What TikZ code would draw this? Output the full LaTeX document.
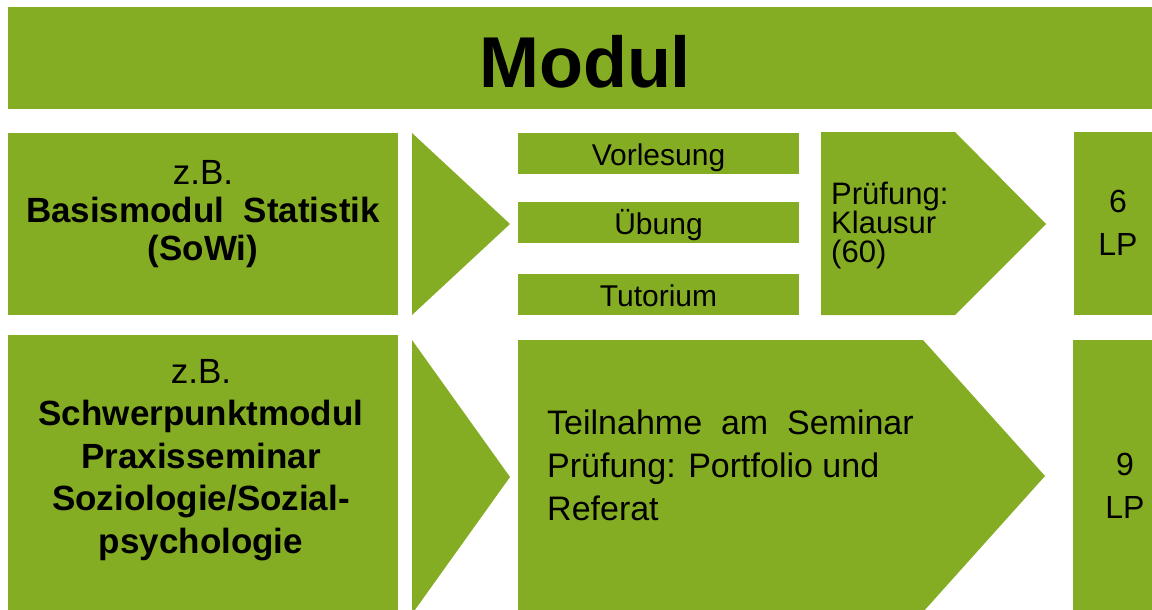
\documentclass[tikz,border=0pt]{standalone}
\usepackage{fontspec}
\setmainfont{Liberation Sans}
\usetikzlibrary{calc}
\definecolor{modgruen}{RGB}{133,173,35}
\tikzset{
  feld/.style={fill=modgruen},
  txt/.style={inner sep=0pt, anchor=base},
  fett/.style={font=\fontsize{35}{#1}\selectfont\bfseries, align=center},
  fett/.default=38,
  normal/.style={font=\fontsize{#1}{#1}\selectfont},
}

\begin{document}
\begin{tikzpicture}[x=1pt,y=-1pt]
\useasboundingbox (0,0) rectangle (1152,610);
\clip (0,0) rectangle (1152,610);
% Kopfzeile
\fill[feld] (8,7) rectangle (1170,109);
\node[txt,font=\fontsize{72}{80}\selectfont\bfseries] (modul) at (585,88) {Modul};
% Zeile 1: Basismodul
\fill[feld] (8,133) rectangle (398,315);
\fill[feld] (412,133) -- (510,224) -- (412,315) -- cycle;
\foreach \y/\name/\label in {133/vl/Vorlesung, 202/ue/Übung, 274/tu/Tutorium}{
  \fill[feld] (518,\y) rectangle (799,\y+41);
  \node[txt,normal=30] (\name) at (658.5,\y+32) {\label};
}
\fill[feld] (821,132) -- (955,132) -- (1046,224) -- (955,315) -- (821,315) -- cycle;
\fill[feld] (1074,132) rectangle (1170,315);
% base = Grundlinie der letzten Zeile
\node[txt,fett] (basis) at (203,260) {\mdseries z.B.\\Basismodul\ \ Statistik\\(SoWi)};
\node[txt,anchor=base west,font=\fontsize{31}{29}\selectfont,align=left] (klausur) at (831,262) {Prüfung:\\Klausur\\(60)};
\node[txt,font=\fontsize{32}{43}\selectfont,align=center] (lp1) at (1118,255) {6\\LP};
% Zeile 2: Schwerpunktmodul
\fill[feld] (8,335) rectangle (398,620);
\fill[feld] (412,340) -- (510,477) -- (412,614) -- cycle;
\fill[feld] (518,340) -- (923,340) -- (1045,476) -- (923,612) -- (518,612) -- cycle;
\fill[feld] (1073,340) rectangle (1170,620);
\node[txt,fett=42.5] (schwer) at (201,553) {\mdseries z.B.\\Schwerpunktmodul\\Praxisseminar\\Soziologie/Sozial-\\psychologie};
\node[txt,anchor=base west,font=\fontsize{34}{43}\selectfont,align=left] (seminar) at (547,520) {Teilnahme\ \ am\ \ Seminar\\Prüfung: Portfolio und\\Referat};
\node[txt,font=\fontsize{32}{43}\selectfont,align=center] (lp2) at (1125,518) {9\\LP};
\end{tikzpicture}
\end{document}
